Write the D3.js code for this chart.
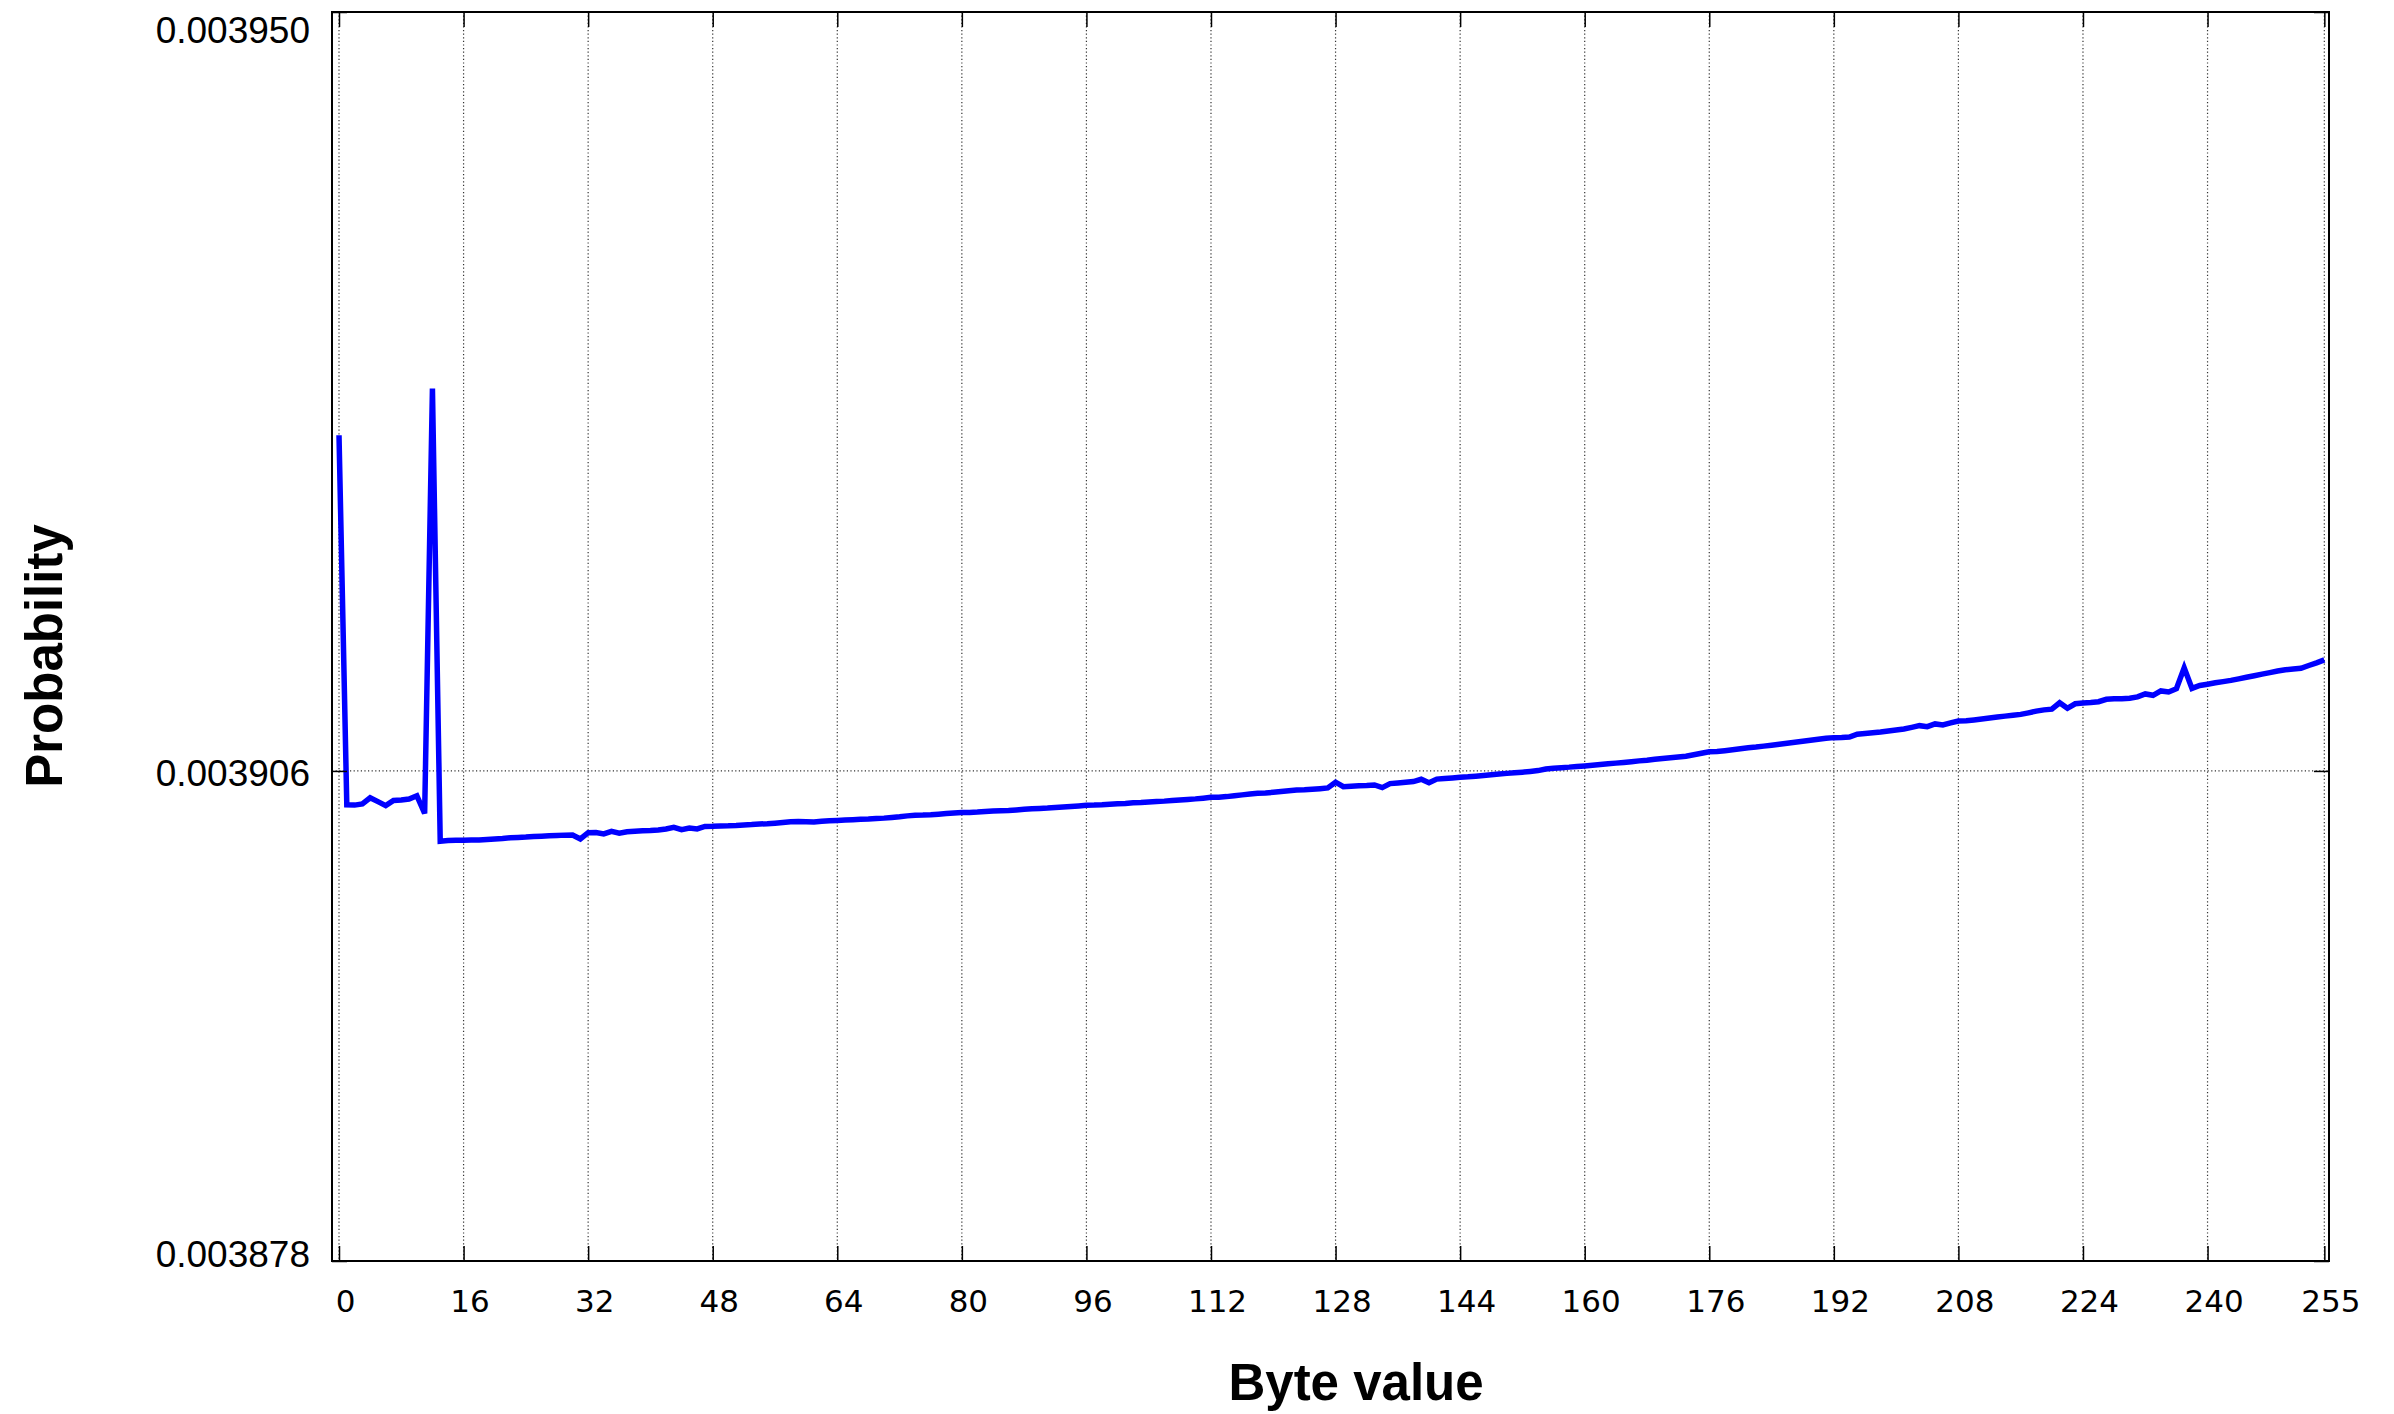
<!DOCTYPE html>
<html>
<head>
<meta charset="utf-8">
<script src="https://cdn.jsdelivr.net/npm/d3@7"></script>
<style>
  body { margin: 0; background: #fff; }
</style>
</head>
<body>
<svg width="2394" height="1414"></svg>
<script>
  // byte values 0..255 on x, probability on y
  var byteValues = d3.range(256);

  var probability = [
    0.00392560, 0.00390430, 0.00390428, 0.00390435, 0.00390470, 0.00390448, 0.00390425, 0.00390455,
    0.00390458, 0.00390463, 0.00390482, 0.00390380, 0.00392830, 0.00390220, 0.00390224, 0.00390225,
    0.00390226, 0.00390227, 0.00390227, 0.00390230, 0.00390233, 0.00390236, 0.00390240, 0.00390242,
    0.00390244, 0.00390247, 0.00390249, 0.00390251, 0.00390253, 0.00390255, 0.00390256, 0.00390233,
    0.00390269, 0.00390270, 0.00390262, 0.00390277, 0.00390266, 0.00390274, 0.00390278, 0.00390280,
    0.00390282, 0.00390285, 0.00390290, 0.00390300, 0.00390286, 0.00390296, 0.00390291, 0.00390305,
    0.00390306, 0.00390308, 0.00390309, 0.00390311, 0.00390314, 0.00390316, 0.00390319, 0.00390321,
    0.00390324, 0.00390328, 0.00390332, 0.00390333, 0.00390332, 0.00390331, 0.00390335, 0.00390338,
    0.00390340, 0.00390342, 0.00390344, 0.00390346, 0.00390348, 0.00390351, 0.00390353, 0.00390357,
    0.00390361, 0.00390366, 0.00390370, 0.00390371, 0.00390373, 0.00390376, 0.00390379, 0.00390382,
    0.00390385, 0.00390386, 0.00390388, 0.00390391, 0.00390394, 0.00390396, 0.00390397, 0.00390400,
    0.00390404, 0.00390407, 0.00390409, 0.00390411, 0.00390414, 0.00390417, 0.00390420, 0.00390423,
    0.00390427, 0.00390428, 0.00390430, 0.00390433, 0.00390436, 0.00390438, 0.00390441, 0.00390443,
    0.00390446, 0.00390449, 0.00390451, 0.00390454, 0.00390457, 0.00390461, 0.00390464, 0.00390468,
    0.00390473, 0.00390474, 0.00390477, 0.00390482, 0.00390487, 0.00390492, 0.00390496, 0.00390498,
    0.00390502, 0.00390507, 0.00390511, 0.00390515, 0.00390517, 0.00390520, 0.00390523, 0.00390527,
    0.00390560, 0.00390534, 0.00390537, 0.00390539, 0.00390541, 0.00390544, 0.00390529, 0.00390552,
    0.00390556, 0.00390560, 0.00390564, 0.00390577, 0.00390557, 0.00390578, 0.00390581, 0.00390584,
    0.00390588, 0.00390591, 0.00390595, 0.00390599, 0.00390603, 0.00390607, 0.00390611, 0.00390615,
    0.00390618, 0.00390622, 0.00390627, 0.00390636, 0.00390640, 0.00390644, 0.00390647, 0.00390651,
    0.00390654, 0.00390658, 0.00390662, 0.00390666, 0.00390670, 0.00390674, 0.00390678, 0.00390683,
    0.00390687, 0.00390692, 0.00390697, 0.00390701, 0.00390705, 0.00390710, 0.00390718, 0.00390727,
    0.00390735, 0.00390737, 0.00390742, 0.00390747, 0.00390753, 0.00390759, 0.00390763, 0.00390768,
    0.00390773, 0.00390779, 0.00390785, 0.00390790, 0.00390796, 0.00390802, 0.00390808, 0.00390813,
    0.00390817, 0.00390818, 0.00390820, 0.00390837, 0.00390841, 0.00390845, 0.00390849, 0.00390855,
    0.00390861, 0.00390867, 0.00390876, 0.00390886, 0.00390880, 0.00390896, 0.00390890, 0.00390902,
    0.00390913, 0.00390915, 0.00390919, 0.00390924, 0.00390930, 0.00390936, 0.00390941, 0.00390946,
    0.00390951, 0.00390960, 0.00390970, 0.00390977, 0.00390981, 0.00391018, 0.00390986, 0.00391012,
    0.00391016, 0.00391019, 0.00391024, 0.00391038, 0.00391041, 0.00391041, 0.00391044, 0.00391052,
    0.00391069, 0.00391061, 0.00391086, 0.00391080, 0.00391099, 0.00391220, 0.00391101, 0.00391118,
    0.00391125, 0.00391133, 0.00391140, 0.00391147, 0.00391156, 0.00391165, 0.00391174, 0.00391183,
    0.00391192, 0.00391201, 0.00391208, 0.00391213, 0.00391217, 0.00391233, 0.00391248, 0.00391265
  ];

  var xTicks = [0, 16, 32, 48, 64, 80, 96, 112, 128, 144, 160, 176, 192, 208, 224, 240, 255];
  var yTicks = [0.003878, 0.00390625, 0.003950];
  var yTickLabels = ['0.003878', '0.003906', '0.003950'];

  var svgctrl = d3.select('svg');

  var plotLeft = 332, plotRight = 2329, plotTop = 12, plotBottom = 1261;

  var x = d3.scaleLinear().domain([-0.9, 255.6]).range([plotLeft, plotRight]);
  var y = d3.scaleLinear().domain([0.003878, 0.003950]).range([plotBottom, plotTop]);

  svgctrl.append('rect').attr('width', 2394).attr('height', 1414).attr('fill', '#fff');

  // dotted grid
  var grid = svgctrl.append('g');
  grid.selectAll('line.gx').data(xTicks).enter().append('line')
    .attr('x1', function(d) { return x(d); }).attr('x2', function(d) { return x(d); })
    .attr('y1', plotTop).attr('y2', plotBottom)
    .attr('stroke', '#333').attr('stroke-width', 1.2).attr('stroke-dasharray', '1.2,2.4');
  grid.selectAll('line.gy').data(yTicks).enter().append('line')
    .attr('x1', plotLeft).attr('x2', plotRight)
    .attr('y1', function(d) { return y(d); }).attr('y2', function(d) { return y(d); })
    .attr('stroke', '#333').attr('stroke-width', 1.2).attr('stroke-dasharray', '1.2,2.4');

  // the series
  var line = d3.line()
    .x(function(d, i) { return x(byteValues[i]); })
    .y(function(d) { return y(d); });

  svgctrl.append('path').datum(probability)
    .attr('d', line)
    .attr('fill', 'none').attr('stroke', '#0000ff').attr('stroke-width', 5.5)
    .attr('stroke-linejoin', 'miter');

  // axes, ticks point inward like gnuplot
  var xAxis = svgctrl.append('g').attr('transform', 'translate(0,' + plotBottom + ')')
    .call(d3.axisBottom(x).tickValues(xTicks).tickSizeInner(-15).tickSizeOuter(0).tickPadding(29));
  xAxis.selectAll('text').attr('font-family', '"DejaVu Sans", sans-serif').attr('font-size', 31)
    .attr('fill', '#000').attr('x', 6);

  svgctrl.append('g').attr('transform', 'translate(0,' + plotTop + ')')
    .call(d3.axisTop(x).tickValues(xTicks).tickSizeInner(-15).tickSizeOuter(0).tickFormat(''));

  var yAxis = svgctrl.append('g').attr('transform', 'translate(' + plotLeft + ',0)')
    .call(d3.axisLeft(y).tickValues(yTicks).tickSizeInner(-15).tickSizeOuter(0).tickPadding(22)
      .tickFormat(function(d, i) { return yTickLabels[i]; }));
  yAxis.selectAll('text')
    .attr('font-family', '"Liberation Sans", Arial, Helvetica, sans-serif').attr('font-size', 37).attr('fill', '#000')
    .attr('y', function(d) { return d === 0.003950 ? 19 : (d === 0.003878 ? -6 : 3); });

  svgctrl.append('g').attr('transform', 'translate(' + plotRight + ',0)')
    .call(d3.axisRight(y).tickValues(yTicks).tickSizeInner(-15).tickSizeOuter(0).tickFormat(''));

  svgctrl.selectAll('.domain').remove();
  svgctrl.selectAll('.tick line').attr('stroke', '#000').attr('stroke-width', 1.5);

  // frame
  svgctrl.append('rect').attr('x', plotLeft).attr('y', plotTop)
    .attr('width', plotRight - plotLeft).attr('height', plotBottom - plotTop)
    .attr('fill', 'none').attr('stroke', '#000').attr('stroke-width', 2);

  // axis titles
  svgctrl.append('text').attr('x', 1356).attr('y', 1400)
    .attr('text-anchor', 'middle').attr('font-family', '"Liberation Sans", Arial, Helvetica, sans-serif')
    .attr('font-weight', 'bold').attr('font-size', 51).text('Byte value');

  svgctrl.append('text').attr('transform', 'translate(62,656) rotate(-90)')
    .attr('text-anchor', 'middle').attr('font-family', '"Liberation Sans", Arial, Helvetica, sans-serif')
    .attr('font-weight', 'bold').attr('font-size', 51).text('Probability');
</script>
</body>
</html>
